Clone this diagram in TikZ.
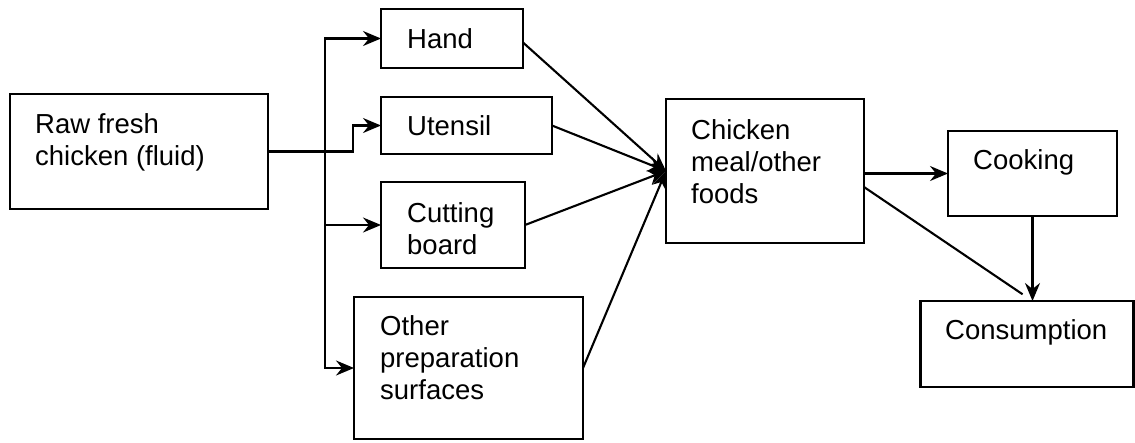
\documentclass[tikz,border=0pt]{standalone}
\usepackage{fontspec}
\setmainfont{Liberation Sans}
\usetikzlibrary{arrows.meta}
\begin{document}
\begin{tikzpicture}[x=1pt,y=-1pt,
  box/.style={draw,line width=2.6pt,inner sep=0pt,outer sep=0pt},
  lbl/.style={anchor=north west,inner sep=0pt,align=left,font=\fontsize{27.5}{32}\selectfont},
  conn/.style={line width=2.1pt},
  arr/.style={conn,-{Stealth[length=18pt,width=15pt,inset=6pt]}}]
\useasboundingbox (0,0) rectangle (1135,442);

% boxes
\node[box,minimum width=258pt,minimum height=115pt] (raw) at (139,151.5) {};
\node[box,minimum width=142pt,minimum height=59pt] (hand) at (452,38.5) {};
\node[box,minimum width=171pt,minimum height=57pt] (utensil) at (466.5,125.5) {};
\node[box,minimum width=144pt,minimum height=86pt] (cutting) at (453,225) {};
\node[box,minimum width=229pt,minimum height=142pt] (other) at (468.5,368) {};
\node[box,minimum width=198pt,minimum height=144pt] (chicken) at (765,171) {};
\node[box,minimum width=169pt,minimum height=85pt] (cooking) at (1032.5,173.5) {};
\node[box,minimum width=213pt,minimum height=86pt] (consumption) at (1027,344) {};

% labels (first baseline minus cap height)
\node[lbl] (rawtxt) at (35,113) {Raw fresh\\chicken (fluid)};
\node[lbl] (handtxt) at (407,28) {Hand};
\node[lbl] (utensiltxt) at (407,115) {Utensil};
\node[lbl] (cuttingtxt) at (407,202) {Cutting\\board};
\node[lbl] (othertxt) at (380,315) {Other\\preparation\\surfaces};
\node[lbl] (chickentxt) at (691,119) {Chicken\\meal/other\\foods};
\node[lbl] (cookingtxt) at (973,149) {Cooking};
\node[lbl] (consumptiontxt) at (945,319) {Consumption};

% branching from the raw chicken
\coordinate (j) at ([xshift=57pt]raw.east);
\draw[arr] (raw.east) -- ++(85,0) |- (utensil.west);
\draw[arr] (j) |- (hand.west);
\draw[arr] (j) |- (cutting.west);
\draw[arr] (j) |- (other.west);

% transfer to the meal
\draw[arr] ([yshift=-4pt]hand.east) -- (chicken.west);
\draw[arr] (utensil.east) -- (chicken.west);
\draw[arr] (cutting.east) -- (chicken.west);
\draw[arr] (other.east) -- (chicken.west);

% cooking and consumption
\draw[arr] (chicken.east |- cooking.west) -- (cooking.west);
\draw[arr] (cooking.south) -- (cooking.south |- consumption.north);
\draw[conn,shorten >=12pt] ([yshift=-16pt]chicken.east) -- (cooking.south |- consumption.north);
\end{tikzpicture}
\end{document}
